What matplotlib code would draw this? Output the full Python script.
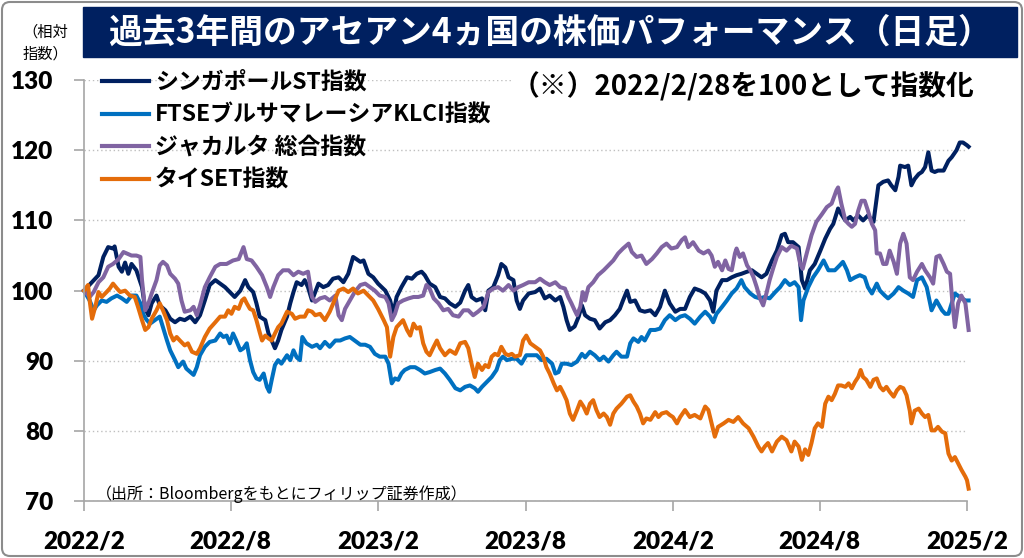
import numpy as np
import matplotlib.pyplot as plt
from matplotlib.patches import Rectangle, FancyBboxPatch
from matplotlib.transforms import IdentityTransform

# 2022/2/28 = 100, x given as days since 2022/2/28
start = np.datetime64("2022-02-28")

labels = ["シンガポールST指数", "FTSEブルサマレーシアKLCI指数", "ジャカルタ 総合指数", "タイSET指数"]
colors = ["#002060", "#0070C0", "#8064A2", "#E46C0A"]

sg_days = [0, 18, 24, 30, 36, 38, 43, 47, 51, 55, 59, 65, 72, 76, 80, 84, 90, 94, 101, 107,
           113, 119, 125, 132, 138, 144, 150, 156, 163, 169, 175, 181, 187, 194, 200, 204, 210,
           214, 218, 225, 229, 233, 237, 241, 245, 252, 256, 260, 264, 270, 274, 278, 283, 287,
           291, 297, 303, 309, 316, 322, 328, 334, 338, 343, 347, 353, 359, 365, 374, 380, 384,
           388, 394, 401, 407, 413, 419, 423, 429, 436, 442, 448, 454, 461, 467, 473, 477, 481,
           487, 494, 498, 502, 508, 514, 518, 523, 527, 533, 537, 541, 545, 552, 560, 566, 572,
           578, 585, 591, 595, 599, 603, 609, 614, 618, 622, 628, 634, 640, 647, 653, 659, 665,
           669, 674, 678, 684, 690, 696, 703, 709, 715, 721, 727, 734, 740, 746, 752, 758, 765,
           771, 777, 781, 785, 792, 798, 804, 810, 816, 823, 829, 835, 841, 847, 854, 860, 866,
           870, 874, 880, 887, 891, 895, 901, 907, 914, 920, 926, 930, 936, 940, 945, 951, 955,
           961, 967, 973, 980, 984, 986, 992, 998, 1002, 1007, 1011, 1013, 1019, 1023, 1027,
           1031, 1036, 1040, 1044, 1048, 1052, 1056, 1060, 1067, 1073, 1077, 1083, 1087, 1091,
           1096, 1098]
sg_vals = [100.0, 102.2, 104.8, 106.2, 106.0, 106.3, 103.4, 102.7, 104.0, 102.4, 103.8, 102.9,
           100.5, 97.4, 96.5, 98.2, 99.3, 97.9, 97.2, 96.0, 95.5, 96.0, 95.8, 96.3, 95.5, 96.5,
           98.6, 100.8, 101.5, 101.0, 100.5, 99.8, 99.1, 100.0, 101.5, 100.5, 99.8, 98.2, 96.3,
           95.8, 93.9, 92.9, 91.8, 92.9, 94.4, 96.3, 98.2, 99.8, 101.2, 100.8, 101.5, 100.5, 98.6,
           99.8, 101.0, 100.5, 100.8, 101.7, 101.9, 101.2, 102.4, 104.8, 104.5, 104.1, 104.3,
           102.4, 101.9, 101.0, 100.0, 98.6, 96.7, 99.1, 100.5, 101.9, 101.7, 102.4, 102.7, 102.2,
           101.0, 100.5, 99.1, 98.9, 98.2, 97.7, 98.3, 100.0, 100.8, 99.1, 98.6, 98.9, 97.2,
           100.0, 100.5, 102.2, 103.8, 103.3, 101.9, 101.5, 98.6, 97.4, 98.6, 99.6, 99.8, 100.3,
           98.9, 99.3, 98.6, 99.1, 97.7, 95.8, 94.4, 94.9, 96.3, 97.9, 96.5, 96.0, 95.8, 94.6,
           95.5, 95.8, 96.5, 97.4, 98.6, 100.0, 98.4, 98.6, 97.2, 97.0, 97.2, 96.5, 97.7, 100.0,
           98.2, 97.0, 97.4, 97.4, 99.1, 100.3, 100.0, 99.6, 98.6, 97.0, 100.0, 101.5, 101.5,
           101.9, 102.2, 102.4, 102.7, 102.9, 102.4, 101.9, 102.4, 104.3, 105.7, 107.9, 108.1,
           106.9, 106.9, 106.2, 101.5, 100.3, 102.9, 103.8, 105.7, 107.4, 108.8, 109.5, 111.7,
           110.9, 110.0, 110.5, 110.0, 110.7, 110.0, 110.7, 109.8, 113.3, 115.0, 115.5, 115.7,
           115.0, 114.3, 116.2, 117.8, 117.6, 117.8, 115.0, 115.9, 116.6, 116.9, 117.6, 119.7,
           117.1, 116.9, 117.1, 117.1, 118.5, 119.0, 120.0, 121.1, 121.1, 120.7, 120.5]

my_days = [0, 7, 12, 16, 22, 28, 34, 41, 47, 53, 59, 65, 70, 74, 78, 82, 88, 94, 98, 103, 107,
           113, 117, 123, 127, 132, 136, 140, 144, 150, 156, 163, 169, 173, 177, 181, 185, 189,
           194, 198, 202, 206, 210, 214, 218, 223, 227, 230, 233, 237, 241, 245, 252, 256, 260,
           264, 268, 271, 276, 283, 289, 293, 299, 305, 312, 318, 324, 330, 336, 343, 349, 355,
           361, 367, 374, 378, 382, 386, 390, 394, 398, 405, 411, 417, 423, 429, 436, 442, 448,
           454, 461, 467, 473, 479, 485, 489, 494, 500, 506, 512, 516, 520, 525, 531, 537, 543,
           549, 562, 568, 574, 581, 585, 589, 593, 599, 605, 612, 618, 622, 628, 634, 640, 645,
           651, 657, 661, 667, 674, 678, 682, 688, 692, 696, 703, 709, 715, 721, 727, 734, 740,
           746, 752, 758, 765, 771, 777, 781, 785, 792, 798, 804, 810, 816, 820, 827, 833, 839,
           845, 851, 858, 864, 870, 876, 882, 887, 890, 893, 899, 905, 911, 918, 924, 932, 938,
           942, 947, 951, 957, 963, 969, 973, 978, 984, 988, 994, 998, 1005, 1011, 1017, 1023,
           1029, 1034, 1040, 1046, 1052, 1058, 1065, 1069, 1073, 1077, 1081, 1087, 1094, 1098]
my_vals = [100.0, 98.6, 97.2, 97.9, 98.6, 98.4, 98.9, 99.3, 98.9, 98.4, 99.3, 99.3, 98.2, 96.5,
           95.8, 95.3, 95.8, 96.3, 94.8, 92.9, 91.5, 90.1, 89.1, 89.9, 88.9, 88.4, 88.0, 89.1,
           90.8, 92.0, 92.7, 92.9, 93.9, 93.4, 93.6, 92.5, 93.9, 92.9, 91.5, 91.8, 92.5, 90.1,
           88.4, 87.5, 87.3, 88.2, 86.3, 85.6, 87.3, 89.4, 90.1, 89.6, 90.8, 90.1, 91.5, 90.5,
           90.1, 93.4, 92.5, 92.0, 92.3, 91.8, 92.7, 92.0, 92.9, 92.9, 93.2, 93.4, 92.9, 92.3,
           92.3, 92.0, 91.0, 90.6, 90.6, 89.6, 86.8, 87.5, 87.3, 88.2, 88.7, 89.1, 89.1, 88.7,
           88.2, 88.4, 88.7, 88.9, 88.2, 87.3, 86.1, 85.8, 86.3, 86.5, 86.1, 85.6, 86.3, 87.0,
           87.7, 88.7, 90.1, 90.6, 90.1, 90.3, 90.3, 89.6, 90.8, 90.8, 90.1, 90.3, 89.6, 88.2,
           88.4, 89.6, 89.6, 89.4, 89.9, 91.0, 90.5, 91.3, 90.8, 90.1, 90.6, 89.9, 90.8, 91.3,
           90.6, 90.6, 92.5, 93.2, 92.7, 93.4, 92.9, 94.4, 94.4, 94.6, 95.8, 96.5, 95.8, 96.3,
           96.5, 96.0, 95.3, 96.3, 97.0, 96.3, 95.5, 96.7, 97.7, 98.6, 99.6, 100.3, 101.5, 100.5,
           99.6, 99.1, 98.9, 99.1, 98.9, 99.8, 100.5, 101.5, 100.8, 101.2, 100.5, 95.8, 98.6,
           100.5, 101.9, 102.9, 104.3, 102.9, 102.9, 103.6, 104.1, 102.9, 101.5, 101.9, 102.2,
           101.9, 100.5, 99.6, 101.0, 100.0, 99.3, 98.9, 99.6, 100.5, 100.0, 99.6, 99.1, 101.5,
           101.9, 100.5, 97.2, 98.6, 97.2, 96.7, 96.7, 98.2, 99.6, 99.1, 98.6, 98.6]

id_days = [0, 7, 12, 18, 24, 30, 36, 43, 49, 53, 59, 65, 70, 72, 76, 80, 84, 90, 94, 98, 103,
           107, 113, 117, 121, 125, 132, 136, 140, 144, 150, 156, 163, 169, 177, 185, 192, 198,
           202, 208, 214, 221, 227, 231, 235, 241, 247, 254, 260, 266, 272, 278, 283, 287, 293,
           299, 305, 312, 316, 320, 324, 330, 336, 343, 349, 355, 361, 367, 374, 378, 382, 386,
           390, 396, 403, 409, 415, 421, 425, 429, 434, 440, 446, 452, 458, 465, 471, 477, 483,
           489, 496, 502, 508, 514, 520, 527, 533, 539, 545, 552, 560, 566, 572, 578, 585, 591,
           597, 601, 605, 609, 612, 616, 619, 622, 626, 632, 638, 645, 651, 657, 663, 669, 676,
           680, 686, 692, 698, 705, 711, 717, 723, 729, 736, 742, 746, 750, 756, 763, 769, 775,
           779, 783, 787, 792, 796, 800, 804, 808, 810, 814, 818, 823, 827, 831, 835, 839, 843,
           847, 851, 856, 860, 866, 872, 878, 885, 889, 892, 897, 903, 909, 916, 922, 928, 934,
           936, 940, 945, 949, 953, 957, 961, 965, 969, 973, 978, 982, 984, 988, 992, 996, 1000,
           1005, 1009, 1013, 1017, 1021, 1025, 1029, 1034, 1040, 1044, 1050, 1054, 1058, 1062,
           1067, 1071, 1075, 1078, 1081, 1085, 1089, 1094, 1096, 1098]
id_vals = [100.0, 99.1, 99.8, 101.2, 101.9, 103.4, 103.8, 104.5, 105.5, 105.3, 105.0, 105.0,
           104.8, 101.5, 97.2, 98.2, 99.6, 101.5, 103.6, 104.1, 103.6, 102.4, 101.7, 101.0, 98.6,
           97.0, 97.2, 97.7, 96.5, 97.9, 100.5, 101.9, 103.4, 103.8, 103.8, 104.3, 104.5, 106.2,
           104.5, 104.3, 103.4, 102.2, 100.5, 99.1, 100.5, 102.2, 102.9, 102.9, 102.2, 102.7,
           102.4, 102.7, 99.1, 98.4, 98.9, 99.1, 98.6, 99.3, 96.5, 95.8, 97.4, 98.6, 99.8, 100.8,
           101.0, 100.5, 100.0, 99.3, 99.1, 98.2, 95.8, 96.7, 98.2, 98.6, 98.9, 99.1, 99.1, 99.3,
           100.8, 100.3, 98.9, 98.2, 97.2, 97.4, 96.5, 96.3, 97.2, 97.2, 96.5, 97.0, 97.7, 99.8,
           100.3, 100.5, 100.0, 100.8, 100.0, 100.5, 100.8, 101.2, 101.2, 101.7, 101.2, 100.8,
           101.2, 100.5, 100.3, 99.1, 98.2, 97.2, 96.5, 97.7, 99.8, 98.6, 100.5, 101.2, 102.2,
           102.9, 103.6, 104.3, 105.3, 106.0, 106.7, 105.5, 104.8, 105.0, 103.8, 104.5, 105.3,
           106.2, 106.7, 106.0, 106.2, 107.2, 107.6, 106.2, 106.9, 105.7, 105.3, 105.7, 105.0,
           103.4, 104.1, 102.9, 104.3, 103.1, 102.9, 105.3, 106.0, 104.8, 105.3, 103.6, 102.9,
           101.9, 100.5, 98.9, 97.9, 99.6, 101.5, 103.4, 104.8, 106.2, 105.7, 106.4, 106.0,
           103.8, 103.1, 105.3, 107.9, 109.8, 110.9, 111.9, 112.4, 114.3, 114.7, 112.4, 110.0,
           109.5, 109.1, 109.5, 111.4, 112.8, 112.8, 111.4, 109.5, 108.6, 105.3, 105.3, 103.8,
           103.8, 105.7, 104.1, 102.4, 106.7, 108.1, 106.7, 101.9, 101.5, 102.7, 103.8, 102.9,
           101.9, 101.0, 104.8, 105.0, 103.8, 102.7, 102.4, 98.2, 94.8, 98.2, 99.3, 98.2, 96.3,
           94.4]

th_days = [0, 5, 7, 10, 14, 18, 22, 28, 32, 36, 41, 45, 51, 57, 63, 67, 72, 76, 80, 84, 90, 94,
           98, 103, 107, 111, 115, 119, 125, 129, 134, 140, 144, 150, 156, 163, 169, 175, 179,
           183, 187, 192, 196, 199, 202, 206, 210, 214, 218, 221, 225, 229, 233, 237, 241, 245,
           252, 258, 262, 268, 274, 278, 283, 287, 293, 299, 305, 312, 316, 322, 328, 334, 340,
           347, 353, 359, 365, 372, 376, 380, 384, 388, 392, 396, 401, 405, 409, 413, 417, 421,
           425, 429, 434, 438, 442, 448, 454, 461, 467, 473, 477, 481, 485, 489, 494, 498, 502,
           506, 510, 514, 518, 523, 527, 531, 535, 541, 545, 549, 554, 560, 566, 570, 574, 578,
           583, 587, 591, 595, 599, 603, 607, 612, 616, 620, 624, 628, 632, 636, 640, 645, 649,
           653, 657, 661, 667, 674, 678, 682, 686, 690, 694, 698, 703, 709, 713, 717, 723, 727,
           731, 736, 740, 746, 752, 758, 765, 771, 775, 779, 783, 787, 794, 800, 806, 812, 818,
           825, 831, 837, 841, 845, 849, 854, 860, 866, 872, 878, 882, 887, 891, 895, 899, 903,
           907, 911, 916, 920, 924, 928, 932, 936, 940, 945, 949, 953, 957, 961, 964, 967, 971,
           976, 980, 984, 988, 992, 996, 1000, 1005, 1009, 1013, 1017, 1021, 1025, 1027, 1031,
           1036, 1040, 1044, 1048, 1052, 1056, 1060, 1065, 1069, 1073, 1077, 1081, 1085, 1089,
           1094, 1096, 1098]
th_vals = [100.0, 100.8, 98.6, 96.0, 97.7, 99.8, 99.1, 99.8, 100.3, 101.0, 100.3, 99.8, 100.0,
           99.3, 99.1, 97.7, 95.8, 94.4, 94.8, 96.0, 97.2, 98.2, 97.2, 95.8, 93.9, 92.9, 93.4,
           92.9, 92.2, 92.5, 91.3, 91.0, 91.8, 93.4, 94.6, 95.5, 96.3, 96.3, 97.2, 96.7, 97.7,
           97.4, 98.6, 98.9, 98.2, 97.4, 97.2, 95.8, 94.1, 92.9, 93.6, 93.2, 92.9, 93.9, 94.8,
           95.3, 97.0, 96.7, 96.0, 96.3, 96.3, 97.2, 97.0, 96.5, 96.7, 95.8, 97.0, 98.9, 100.0,
           100.3, 99.8, 100.3, 99.6, 100.0, 99.3, 98.6, 97.4, 95.8, 94.8, 90.6, 93.4, 94.8, 95.3,
           95.8, 94.4, 93.6, 95.3, 94.6, 94.8, 92.5, 91.3, 90.8, 92.0, 92.9, 91.8, 90.8, 91.5,
           91.0, 92.5, 92.7, 91.8, 89.6, 87.7, 89.6, 88.7, 89.4, 89.1, 90.6, 91.0, 90.8, 92.0,
           91.0, 90.8, 91.0, 90.6, 90.8, 92.9, 93.6, 92.5, 92.0, 91.5, 90.6, 89.1, 88.2, 86.8,
           85.8, 86.3, 85.4, 84.4, 82.5, 81.6, 83.0, 84.2, 83.5, 82.5, 83.9, 84.4, 83.0, 82.0,
           82.5, 82.0, 80.9, 82.5, 83.2, 83.9, 84.9, 85.1, 84.2, 83.5, 82.5, 81.1, 81.8, 81.6,
           82.7, 82.0, 82.5, 82.7, 82.3, 82.0, 81.1, 82.0, 83.0, 82.0, 82.3, 81.8, 83.5, 83.0,
           81.1, 79.2, 80.6, 81.1, 81.6, 81.3, 82.0, 81.1, 80.4, 79.2, 77.8, 77.1, 77.8, 78.3,
           77.1, 78.5, 79.2, 78.7, 77.1, 78.5, 77.8, 75.9, 77.4, 76.6, 78.3, 80.4, 81.1, 80.6,
           83.9, 84.9, 84.4, 85.3, 86.5, 86.5, 86.3, 86.8, 86.1, 87.0, 87.7, 88.7, 87.7, 87.3,
           86.3, 87.3, 87.5, 86.3, 85.8, 86.3, 85.6, 84.9, 85.8, 86.3, 86.1, 85.1, 82.9, 81.1,
           82.9, 83.2, 82.5, 82.0, 82.3, 80.1, 80.1, 80.6, 79.9, 79.7, 76.8, 75.8, 76.3, 75.4,
           74.5, 73.5, 73.0, 71.8]

tick_dates = ["2022-02-28", "2022-08-29", "2023-02-28", "2023-08-30", "2024-02-29",
              "2024-08-29", "2025-02-28"]
tick_labels = ["2022/2", "2022/8", "2023/2", "2023/8", "2024/2", "2024/8", "2025/2"]
y_ticks = [70, 80, 90, 100, 110, 120, 130]

W, H = 1024, 558
JP = ["Noto Sans CJK JP", "DejaVu Sans"]
NUM = ["Lato", "Noto Sans CJK JP"]


def fx(x):
    return x / W


def fy(y):
    return 1 - y / H


fig = plt.figure(figsize=(W / 100, H / 100), dpi=100)
ax = fig.add_axes([fx(84), fy(501.3), fx(967 - 84), (501.3 - 80) / H])

series = [(sg_days, sg_vals), (my_days, my_vals), (id_days, id_vals), (th_days, th_vals)]
for (d, v), lab, c in zip(series, labels, colors):
    x = start + np.array(d).astype("timedelta64[D]")
    ax.plot(x, v, color=c, lw=2.9, label=lab, clip_on=False, solid_joinstyle="round")

ax.set_xlim(start, np.datetime64("2025-02-28"))
ax.set_ylim(70, 130)
ax.set_yticks(y_ticks)
ax.set_xticks([np.datetime64(t) for t in tick_dates])
ax.set_xticklabels(tick_labels)

for s in ["top", "right"]:
    ax.spines[s].set_visible(False)
for s in ["left", "bottom"]:
    ax.spines[s].set_color("#A6A6A6")
    ax.spines[s].set_linewidth(1.2)
ax.tick_params(axis="both", direction="out", length=7, width=1.2, color="#A6A6A6")
ax.tick_params(axis="y", pad=15)
ax.tick_params(axis="x", pad=14)
for t in ax.get_xticklabels() + ax.get_yticklabels():
    t.set_fontfamily(NUM)
    t.set_fontweight("heavy")
    t.set_fontsize(17.5)
ax.yaxis.grid(True, color="#BFBFBF", linestyle=(0, (1, 2)), lw=1)
ax.set_axisbelow(True)

leg = ax.legend(loc="upper left", bbox_to_anchor=(fx(102), fy(71)),
                bbox_transform=fig.transFigure, frameon=False, borderpad=0,
                borderaxespad=0, handlelength=2.05, handletextpad=0.25, labelspacing=0.42,
                prop={"family": JP, "weight": "bold", "size": 16.5})
for h in leg.get_lines():
    h.set_linewidth(3)

# title banner
fig.patches.append(Rectangle((fx(83), fy(57)), (1017 - 83) / W, 50 / H,
                             transform=fig.transFigure, color="#002060", zorder=0))
fig.text(fx(108), fy(32), "過去3年間のアセアン4ヵ国の株価パフォーマンス（日足）",
         color="white", fontsize=24.3, fontweight="bold", family=JP, ha="left", va="center")
fig.text(fx(45), fy(43), "（相対\n指数）", fontsize=11, family=JP, ha="center", va="center",
         linespacing=1.35)
fig.text(fx(512), fy(87), "（※）2022/2/28を100として指数化", fontsize=20, fontweight="bold",
         family=JP, ha="left", va="center",
         bbox=dict(facecolor="white", edgecolor="none", pad=0))
fig.text(fx(96), fy(494), "（出所：Bloombergをもとにフィリップ証券作成）", fontsize=11.5,
         family=JP, ha="left", va="center")

# outer frame
fig.patches.append(FancyBboxPatch((2, 2), W - 4, H - 4, boxstyle="round,pad=0,rounding_size=8",
                                  transform=IdentityTransform(), facecolor="none",
                                  edgecolor="#8C8C8C", lw=1.5))

fig.savefig("out.png", dpi=100)
